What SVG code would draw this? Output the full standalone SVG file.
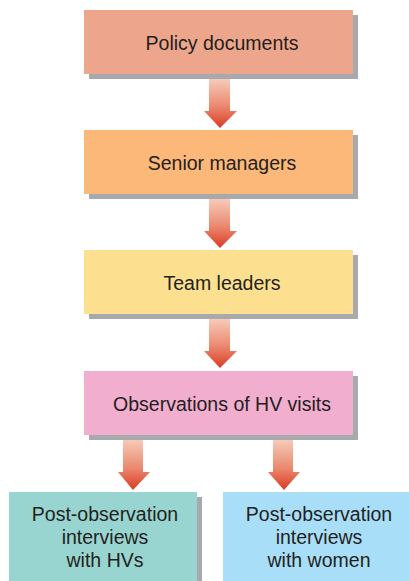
<svg xmlns="http://www.w3.org/2000/svg" width="409" height="581" viewBox="0 0 409 581">
<defs>
<linearGradient id="ag" x1="0" y1="0" x2="0" y2="1">
<stop offset="0" stop-color="#F6CBB8"/>
<stop offset="0.55" stop-color="#EA8A70"/>
<stop offset="1" stop-color="#DC3A25"/>
</linearGradient>
<style>
.sh{fill:#A7A9AC}
.t{font-family:"Liberation Sans",Arial,sans-serif;font-size:19.5px;fill:#231F20;text-anchor:middle}
.ar{fill:url(#ag)}
</style>
</defs>
<rect width="409" height="581" fill="#fff"/>
<g id="policy">
<rect class="sh" x="89" y="15" width="269" height="64"/>
<rect x="84" y="10" width="269" height="64" fill="#EDA68C"/>
<text class="t" x="222" y="50">Policy documents</text>
</g>
<g id="senior">
<rect class="sh" x="89" y="135" width="269" height="64"/>
<rect x="84" y="130" width="269" height="64" fill="#FBB878"/>
<text class="t" x="222" y="170">Senior managers</text>
</g>
<g id="team">
<rect class="sh" x="89" y="255" width="269" height="64"/>
<rect x="84" y="250" width="269" height="64" fill="#FDE08F"/>
<text class="t" x="222" y="290">Team leaders</text>
</g>
<g id="observations">
<rect class="sh" x="89" y="376" width="269" height="64"/>
<rect x="84" y="371" width="269" height="64" fill="#F2AECF"/>
<text class="t" x="222" y="411">Observations of HV visits</text>
</g>
<g id="hvs">
<rect class="sh" x="14" y="497" width="188" height="90"/>
<rect x="9" y="492" width="188" height="95" fill="#99D5D0"/>
<text class="t" x="105" y="521">Post-observation</text>
<text class="t" x="105" y="544">interviews</text>
<text class="t" x="105" y="567">with HVs</text>
</g>
<g id="women">
<rect x="223" y="492" width="190" height="95" fill="#A8DEF7"/>
<text class="t" x="319" y="521">Post-observation</text>
<text class="t" x="319" y="544">interviews</text>
<text class="t" x="319" y="567">with women</text>
</g>
<g id="connectors">
<path class="ar" d="M209,79 H230 V111 H237 L220,128 L204,111 H209 Z"/>
<path class="ar" d="M209,199 H230 V231 H237 L220,248 L204,231 H209 Z"/>
<path class="ar" d="M209,319 H230 V351 H237 L220,368 L204,351 H209 Z"/>
<path class="ar" d="M123,440 H143 V472 H150 L133,490 L118,472 H123 Z"/>
<path class="ar" d="M273,440 H293 V472 H300 L284,490 L268,472 H273 Z"/>
</g>
</svg>
